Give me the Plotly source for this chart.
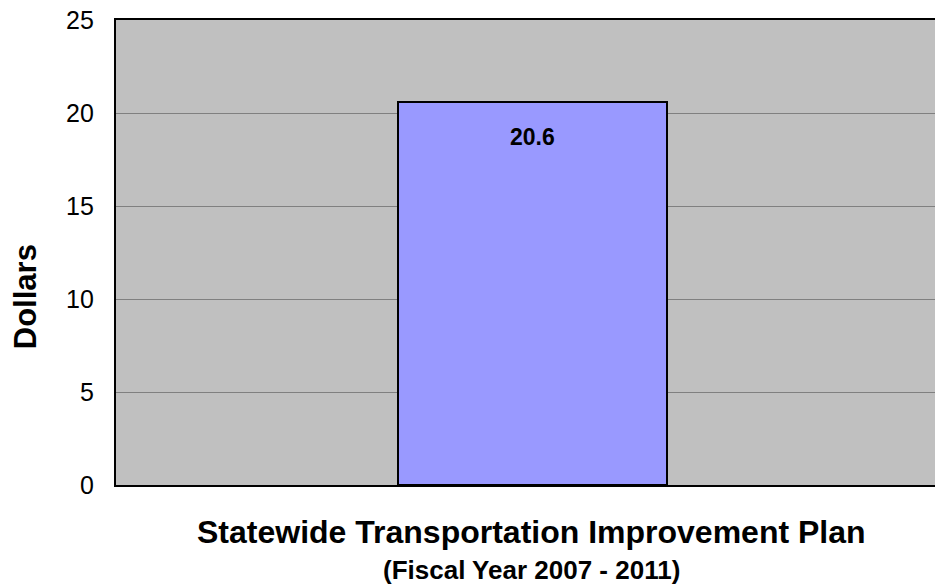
import plotly.graph_objects as go

categories = ["STIP"]
values = [20.6]
y_ticks = [0, 5, 10, 15, 20, 25]
y_tick_labels = ["0", "5", "10", "15", "20", "25"]

FONT = "Liberation Sans, Arial, sans-serif"

fig = go.Figure()
fig.add_trace(go.Bar(
    x=categories, y=values,
    marker=dict(color="#9999FF", line=dict(color="black", width=2)),
    width=0.322,
    hoverinfo="skip",
))
for c, v in zip(categories, values):
    fig.add_annotation(x=c, y=v, text=f"<b>{v:.1f}</b>", showarrow=False,
                       yanchor="middle", yshift=-35,
                       font=dict(family=FONT, size=23, color="black"))

# y tick labels (placed on the y scale)
for t, lab in zip(y_ticks, y_tick_labels):
    fig.add_annotation(xref="paper", yref="y", x=0, y=t, text=lab, showarrow=False,
                       xanchor="right", yanchor="middle", xshift=-20,
                       font=dict(family=FONT, size=25, color="black"))

fig.add_annotation(xref="paper", yref="paper", x=0.4988, y=-0.1, yanchor="middle",
                   text="<b>Statewide Transportation Improvement Plan</b>", showarrow=False,
                   font=dict(family=FONT, size=32, color="black"))
fig.add_annotation(xref="paper", yref="paper", x=0.4988, y=-0.1828, yanchor="middle",
                   text="<b>(Fiscal Year 2007 - 2011)</b>", showarrow=False,
                   font=dict(family=FONT, size=26, color="black"))
fig.add_annotation(xref="paper", yref="paper", x=-0.109, y=0.4043, xanchor="center", yanchor="middle",
                   text="<b>Dollars</b>", showarrow=False, textangle=-90,
                   font=dict(family=FONT, size=31, color="black"))

fig.update_layout(
    width=943, height=577,
    margin=dict(l=108, r=0, t=12, b=100),
    paper_bgcolor="white", plot_bgcolor="#C0C0C0",
    showlegend=False,
    font=dict(family=FONT, size=25, color="black"),
    bargap=0,
)
fig.update_xaxes(showticklabels=False, showgrid=False, showline=True, linecolor="black",
                 linewidth=1.5, mirror=True, range=[-0.5, 0.5], fixedrange=True)
fig.update_yaxes(range=[0, 25], tickvals=y_ticks, showticklabels=False, showgrid=True,
                 gridcolor="#808080", gridwidth=1,
                 showline=True, linecolor="black", linewidth=1.5, mirror=True, ticks="",
                 zeroline=False, fixedrange=True)

fig.write_html("out.html")
